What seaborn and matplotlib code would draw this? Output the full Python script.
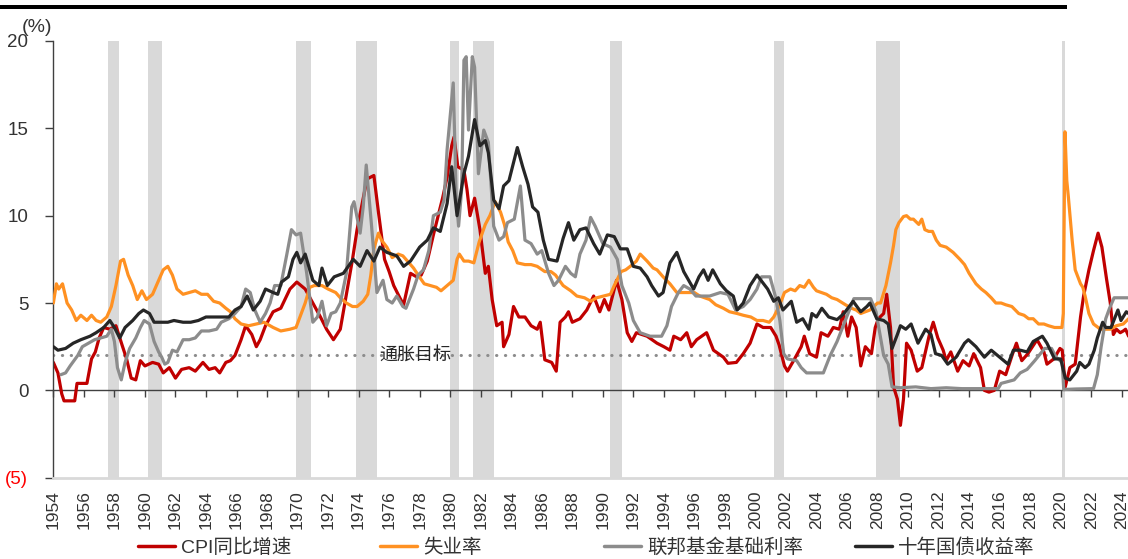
import matplotlib.pyplot as plt
import seaborn as sns
import pandas as pd
from matplotlib.lines import Line2D
from matplotlib.patches import Rectangle

# ---- data ----
cpi_year = [1954.0, 1954.3, 1954.55, 1954.7, 1955.0, 1955.4, 1955.55, 1956.2, 1956.5, 1956.75, 1957.0, 1957.3, 1957.7, 1958.1, 1958.5, 1958.8, 1959.1, 1959.4, 1959.7, 1960.0, 1960.5, 1960.9, 1961.2, 1961.6, 1962.0, 1962.4, 1962.9, 1963.3, 1963.8, 1964.2, 1964.6, 1964.9, 1965.3, 1965.6, 1965.9, 1966.3, 1966.6, 1967.0, 1967.3, 1967.55, 1967.9, 1968.4, 1968.9, 1969.5, 1969.95, 1970.5, 1971.0, 1971.5, 1971.9, 1972.35, 1972.8, 1973.2, 1973.6, 1973.9, 1974.3, 1974.55, 1975.0, 1975.3, 1975.7, 1976.0, 1976.3, 1976.7, 1976.95, 1977.4, 1977.8, 1978.1, 1978.5, 1978.9, 1979.1, 1979.5, 1979.8, 1980.1, 1980.25, 1980.5, 1980.9, 1981.1, 1981.3, 1981.6, 1981.95, 1982.3, 1982.5, 1982.75, 1983.05, 1983.4, 1983.5, 1983.85, 1984.15, 1984.5, 1984.9, 1985.3, 1985.7, 1985.9, 1986.2, 1986.65, 1986.95, 1987.2, 1987.55, 1987.75, 1988.0, 1988.5, 1988.95, 1989.4, 1989.8, 1990.1, 1990.4, 1990.9, 1991.25, 1991.6, 1991.9, 1992.2, 1992.9, 1993.55, 1994.0, 1994.4, 1994.65, 1995.1, 1995.5, 1995.8, 1996.15, 1996.8, 1997.25, 1997.9, 1998.2, 1998.75, 1999.2, 1999.65, 2000.1, 2000.5, 2001.0, 2001.35, 2001.55, 2001.9, 2002.1, 2002.5, 2003.0, 2003.2, 2003.55, 2004.0, 2004.3, 2004.75, 2005.1, 2005.5, 2005.75, 2006.05, 2006.3, 2006.6, 2006.9, 2007.2, 2007.6, 2007.85, 2008.05, 2008.4, 2008.6, 2008.85, 2009.05, 2009.3, 2009.5, 2009.7, 2009.9, 2010.2, 2010.6, 2010.9, 2011.4, 2011.65, 2011.95, 2012.3, 2012.5, 2012.8, 2013.25, 2013.6, 2014.0, 2014.3, 2014.75, 2015.0, 2015.3, 2015.65, 2016.0, 2016.4, 2016.85, 2017.1, 2017.45, 2017.85, 2018.45, 2018.9, 2019.1, 2019.55, 2019.95, 2020.1, 2020.3, 2020.6, 2020.95, 2021.3, 2021.5, 2021.85, 2022.15, 2022.45, 2022.7, 2023.0, 2023.25, 2023.45, 2023.65, 2023.9, 2024.1, 2024.25, 2024.45]
cpi_val = [1.6, 1.0, -0.2, -0.6, -0.6, -0.6, 0.4, 0.4, 1.8, 2.2, 3.0, 3.6, 3.5, 3.7, 2.6, 1.8, 0.7, 0.6, 1.7, 1.4, 1.6, 1.5, 1.0, 1.3, 0.7, 1.2, 1.3, 1.1, 1.6, 1.2, 1.3, 1.0, 1.6, 1.7, 2.0, 2.9, 3.7, 3.2, 2.5, 2.9, 3.7, 4.5, 4.7, 5.8, 6.2, 5.8, 5.0, 4.2, 3.5, 2.9, 3.5, 5.5, 7.5, 9.2, 11.0, 12.1, 12.3, 10.2, 7.5, 6.8, 6.0, 5.3, 4.9, 6.7, 6.5, 6.6, 7.4, 8.9, 9.6, 11.0, 12.2, 14.0, 14.5, 12.8, 12.6, 11.5, 10.0, 11.0, 9.2, 6.7, 7.1, 5.2, 3.7, 3.9, 2.5, 3.2, 4.8, 4.2, 4.2, 3.7, 3.5, 3.9, 1.75, 1.6, 1.1, 3.9, 4.2, 4.5, 3.9, 4.1, 4.6, 5.4, 4.5, 5.2, 4.6, 6.3, 5.2, 3.3, 2.8, 3.3, 3.1, 2.7, 2.5, 2.3, 3.1, 2.9, 3.3, 2.5, 2.9, 3.3, 2.3, 1.9, 1.55, 1.6, 2.1, 2.7, 3.8, 3.6, 3.6, 3.1, 2.6, 1.4, 1.1, 1.7, 2.5, 3.1, 2.1, 1.9, 3.3, 3.1, 3.6, 3.5, 4.5, 3.1, 4.2, 3.6, 1.4, 2.5, 2.1, 3.6, 4.1, 4.4, 5.5, 3.6, 0.2, -0.5, -2.0, -0.5, 2.7, 2.3, 1.1, 1.3, 3.2, 3.9, 3.0, 2.3, 1.7, 2.2, 1.1, 1.7, 1.4, 2.1, 1.3, 0.0, -0.1, 0.0, 1.1, 0.9, 2.1, 2.7, 1.7, 2.1, 2.9, 2.2, 1.5, 1.8, 2.4, 2.3, 0.2, 1.3, 1.5, 4.2, 5.4, 6.9, 8.0, 9.0, 8.2, 6.4, 5.0, 3.2, 3.5, 3.3, 3.4, 3.5, 3.1]

unemp_year = [1954.0, 1954.2, 1954.35, 1954.6, 1954.9, 1955.2, 1955.5, 1955.8, 1956.2, 1956.5, 1956.8, 1957.1, 1957.5, 1957.8, 1958.1, 1958.4, 1958.6, 1958.9, 1959.2, 1959.5, 1959.8, 1960.1, 1960.5, 1960.9, 1961.2, 1961.5, 1961.8, 1962.1, 1962.5, 1962.9, 1963.3, 1963.7, 1964.1, 1964.5, 1964.9, 1965.3, 1965.6, 1965.9, 1966.3, 1966.8, 1967.3, 1967.8, 1968.4, 1968.9, 1969.5, 1969.9, 1970.2, 1970.5, 1970.8, 1971.1, 1971.6, 1972.0, 1972.5, 1972.8, 1973.2, 1973.6, 1973.9, 1974.3, 1974.6, 1974.8, 1975.0, 1975.3, 1975.5, 1975.85, 1976.2, 1976.6, 1976.9, 1977.2, 1977.6, 1977.9, 1978.3, 1978.7, 1979.1, 1979.4, 1979.8, 1980.2, 1980.45, 1980.6, 1980.9, 1981.2, 1981.55, 1981.9, 1982.3, 1982.6, 1982.95, 1983.3, 1983.55, 1983.8, 1984.1, 1984.4, 1984.9, 1985.3, 1985.7, 1986.2, 1986.6, 1986.9, 1987.4, 1987.9, 1988.3, 1988.8, 1989.2, 1989.6, 1990.05, 1990.5, 1990.75, 1991.2, 1991.5, 1991.8, 1992.2, 1992.45, 1992.9, 1993.3, 1993.55, 1993.95, 1994.4, 1994.85, 1995.3, 1995.7, 1996.0, 1996.35, 1997.0, 1997.4, 1997.9, 1998.3, 1998.8, 1999.2, 1999.7, 2000.1, 2000.5, 2000.9, 2001.2, 2001.6, 2001.9, 2002.3, 2002.6, 2002.9, 2003.2, 2003.5, 2003.8, 2004.0, 2004.65, 2005.0, 2005.35, 2005.9, 2006.3, 2006.6, 2006.9, 2007.2, 2007.5, 2007.75, 2008.0, 2008.2, 2008.55, 2008.85, 2009.05, 2009.2, 2009.4, 2009.7, 2009.9, 2010.15, 2010.35, 2010.7, 2010.9, 2011.1, 2011.35, 2011.6, 2011.85, 2012.1, 2012.5, 2012.95, 2013.4, 2013.7, 2014.0, 2014.45, 2014.8, 2015.1, 2015.45, 2015.75, 2016.1, 2016.4, 2016.8, 2017.25, 2017.6, 2017.9, 2018.2, 2018.55, 2018.9, 2019.2, 2019.6, 2020.08, 2020.17, 2020.28, 2020.4, 2020.5, 2020.75, 2020.95, 2021.3, 2021.45, 2021.6, 2021.85, 2022.15, 2022.6, 2023.0, 2023.25, 2023.65, 2024.1, 2024.45]
unemp_val = [5.0, 6.1, 5.8, 6.1, 5.0, 4.6, 4.0, 4.3, 4.0, 4.3, 4.0, 3.9, 4.2, 4.8, 6.0, 7.4, 7.5, 6.6, 6.0, 5.2, 5.7, 5.2, 5.5, 6.3, 6.9, 7.1, 6.6, 5.8, 5.5, 5.6, 5.7, 5.5, 5.5, 5.1, 5.0, 4.7, 4.5, 4.1, 3.8, 3.7, 3.8, 3.9, 3.6, 3.4, 3.5, 3.6, 4.3, 5.0, 5.9, 6.0, 6.0, 5.8, 5.6, 5.3, 5.0, 4.8, 4.8, 5.1, 5.5, 6.6, 8.1, 9.0, 8.6, 8.2, 7.6, 7.8, 7.7, 7.4, 7.0, 6.6, 6.1, 6.0, 5.9, 5.7, 6.0, 6.3, 7.5, 7.8, 7.4, 7.4, 7.3, 8.5, 9.5, 10.0, 10.8, 10.2, 9.5, 8.5, 8.0, 7.3, 7.2, 7.2, 7.1, 6.8, 6.8, 6.6, 6.0, 5.7, 5.4, 5.3, 5.1, 5.3, 5.4, 5.5, 6.0, 6.8, 6.9, 7.1, 7.4, 7.8, 7.4, 7.0, 6.9, 6.5, 6.1, 5.6, 5.6, 5.6, 5.6, 5.4, 5.2, 4.9, 4.7, 4.5, 4.4, 4.3, 4.2, 4.0, 4.0, 3.9, 4.2, 4.9, 5.6, 5.8, 5.7, 6.0, 5.9, 6.3, 5.9, 5.7, 5.5, 5.3, 5.2, 4.9, 4.7, 4.6, 4.4, 4.5, 4.6, 4.8, 5.0, 5.0, 6.0, 7.3, 8.3, 9.2, 9.6, 9.95, 10.0, 9.8, 9.8, 9.5, 9.8, 9.2, 9.1, 9.1, 8.6, 8.3, 8.2, 7.9, 7.5, 7.2, 6.7, 6.1, 5.8, 5.6, 5.3, 5.0, 5.0, 4.9, 4.8, 4.4, 4.3, 4.1, 4.1, 3.8, 3.8, 3.7, 3.6, 3.6, 4.4, 14.8, 12.0, 11.1, 8.6, 6.9, 6.1, 5.9, 5.4, 4.4, 3.8, 3.5, 3.5, 3.5, 3.7, 3.8, 4.1]

fed_year = [1954.5, 1954.8, 1955.1, 1955.6, 1955.9, 1956.3, 1956.7, 1957.1, 1957.5, 1957.8, 1958.0, 1958.2, 1958.45, 1958.7, 1959.0, 1959.4, 1959.7, 1959.95, 1960.3, 1960.6, 1960.9, 1961.1, 1961.3, 1961.5, 1961.8, 1962.1, 1962.5, 1962.9, 1963.3, 1963.7, 1964.2, 1964.7, 1965.0, 1965.5, 1965.9, 1966.3, 1966.6, 1966.9, 1967.2, 1967.55, 1967.9, 1968.2, 1968.5, 1968.9, 1969.3, 1969.6, 1969.9, 1970.2, 1970.6, 1971.0, 1971.3, 1971.6, 1971.9, 1972.2, 1972.5, 1972.8, 1973.2, 1973.55, 1973.7, 1974.1, 1974.3, 1974.5, 1974.85, 1975.2, 1975.6, 1975.85, 1976.2, 1976.5, 1976.9, 1977.1, 1977.6, 1977.9, 1978.25, 1978.6, 1978.9, 1979.35, 1979.6, 1979.8, 1980.2, 1980.4, 1980.55, 1980.75, 1980.9, 1981.05, 1981.2, 1981.45, 1981.6, 1981.85, 1982.2, 1982.5, 1982.85, 1983.2, 1983.5, 1983.75, 1984.2, 1984.6, 1984.9, 1985.3, 1985.7, 1986.0, 1986.45, 1986.8, 1987.1, 1987.55, 1987.9, 1988.2, 1988.5, 1988.9, 1989.2, 1989.5, 1990.0, 1990.5, 1990.95, 1991.25, 1991.7, 1992.0, 1992.45, 1993.1, 1993.85, 1994.2, 1994.5, 1994.95, 1995.3, 1995.7, 1996.1, 1997.0, 1997.7, 1998.2, 1998.7, 1999.2, 1999.65, 2000.1, 2000.4, 2000.95, 2001.3, 2001.6, 2001.85, 2002.1, 2002.7, 2003.0, 2003.35, 2004.45, 2004.9, 2005.35, 2005.8, 2006.2, 2006.45, 2007.55, 2007.9, 2008.2, 2008.4, 2008.7, 2008.95, 2009.5, 2010.5, 2011.5, 2012.5, 2013.5, 2014.5, 2015.9, 2016.1, 2016.95, 2017.35, 2017.8, 2018.3, 2018.95, 2019.4, 2019.7, 2020.1, 2020.2, 2021.0, 2022.15, 2022.4, 2022.65, 2022.95, 2023.2, 2023.5, 2024.45]
fed_val = [0.9, 1.0, 1.4, 2.0, 2.5, 2.7, 2.9, 3.0, 3.1, 3.5, 2.8, 1.3, 0.6, 1.6, 2.4, 3.0, 3.6, 4.0, 3.8, 2.8, 2.2, 1.9, 1.5, 1.6, 2.3, 2.2, 2.9, 2.9, 3.0, 3.4, 3.4, 3.5, 3.9, 4.1, 4.4, 4.8, 5.8, 5.6, 4.6, 3.9, 4.4, 5.0, 6.0, 6.0, 7.8, 9.2, 8.9, 9.0, 6.7, 3.9, 4.2, 5.1, 3.7, 4.4, 4.5, 5.0, 6.7, 10.5, 10.8, 9.0, 10.5, 12.9, 9.4, 5.6, 6.3, 5.2, 5.0, 5.4, 4.8, 4.7, 5.8, 6.6, 6.9, 8.0, 10.0, 10.2, 10.9, 13.8, 17.6, 11.0, 9.4, 11.5, 18.9, 19.1, 14.9, 19.1, 18.5, 12.4, 14.9, 14.2, 9.4, 8.6, 8.8, 9.6, 9.8, 11.7, 8.6, 8.4, 7.8, 8.0, 6.7, 6.0, 6.3, 7.1, 6.7, 6.5, 7.8, 8.6, 9.9, 9.4, 8.4, 8.2, 7.5, 6.0, 5.0, 4.0, 3.3, 3.1, 3.1, 3.7, 4.8, 5.6, 6.0, 5.8, 5.4, 5.4, 5.6, 5.5, 4.6, 4.8, 5.2, 5.8, 6.5, 6.5, 5.4, 4.0, 2.1, 1.8, 1.7, 1.3, 1.0, 1.0, 2.0, 2.8, 3.8, 4.7, 5.25, 5.25, 4.5, 3.0, 2.0, 1.5, 0.2, 0.15, 0.2, 0.1, 0.15, 0.1, 0.1, 0.1, 0.4, 0.6, 1.0, 1.2, 1.7, 2.4, 2.4, 1.9, 1.6, 0.05, 0.08, 0.1, 0.9, 2.5, 4.1, 4.7, 5.3, 5.3]

ty_year = [1954.0, 1954.3, 1954.8, 1955.3, 1955.8, 1956.4, 1956.8, 1957.3, 1957.7, 1958.0, 1958.35, 1958.7, 1959.2, 1959.6, 1959.9, 1960.3, 1960.6, 1961.0, 1961.5, 1961.9, 1962.5, 1963.0, 1963.5, 1964.0, 1964.5, 1965.0, 1965.5, 1965.9, 1966.3, 1966.7, 1967.1, 1967.55, 1967.9, 1968.4, 1968.7, 1968.95, 1969.4, 1969.7, 1969.95, 1970.2, 1970.5, 1971.0, 1971.4, 1971.6, 1971.95, 1972.4, 1973.0, 1973.65, 1974.1, 1974.55, 1975.0, 1975.4, 1975.85, 1976.5, 1976.95, 1977.4, 1978.0, 1978.5, 1978.9, 1979.35, 1979.8, 1980.1, 1980.45, 1980.9, 1981.2, 1981.6, 1981.95, 1982.3, 1982.5, 1982.85, 1983.2, 1983.5, 1983.85, 1984.4, 1984.75, 1985.1, 1985.4, 1985.75, 1986.1, 1986.45, 1987.0, 1987.4, 1987.75, 1988.1, 1988.5, 1988.9, 1989.4, 1989.8, 1990.3, 1990.75, 1991.15, 1991.6, 1992.0, 1992.45, 1992.9, 1993.2, 1993.65, 1993.95, 1994.4, 1994.85, 1995.3, 1995.95, 1996.3, 1996.6, 1996.9, 1997.2, 1997.7, 1998.1, 1998.55, 1998.8, 1999.2, 1999.65, 2000.1, 2000.8, 2001.2, 2001.5, 2001.8, 2002.35, 2002.7, 2003.1, 2003.5, 2003.7, 2004.0, 2004.35, 2004.8, 2005.35, 2005.8, 2006.4, 2006.9, 2007.3, 2007.5, 2007.95, 2008.4, 2008.7, 2008.95, 2009.3, 2009.5, 2009.85, 2010.2, 2010.65, 2011.15, 2011.5, 2011.8, 2012.2, 2012.6, 2013.15, 2013.7, 2013.95, 2014.45, 2015.0, 2015.45, 2016.0, 2016.55, 2016.9, 2017.35, 2017.8, 2018.2, 2018.8, 2019.1, 2019.6, 2020.0, 2020.3, 2020.6, 2021.05, 2021.25, 2021.6, 2021.85, 2022.2, 2022.4, 2022.75, 2022.95, 2023.3, 2023.75, 2023.95, 2024.3, 2024.45]
ty_val = [2.5, 2.3, 2.4, 2.7, 2.9, 3.1, 3.3, 3.6, 4.0, 3.6, 3.0, 3.6, 4.0, 4.4, 4.6, 4.4, 3.9, 3.9, 3.9, 4.0, 3.9, 3.9, 4.0, 4.2, 4.2, 4.2, 4.2, 4.6, 4.8, 5.4, 4.6, 5.1, 5.8, 5.6, 5.5, 6.2, 6.5, 7.5, 7.9, 7.3, 7.8, 6.3, 6.0, 7.0, 6.0, 6.5, 6.7, 7.5, 7.1, 8.0, 7.4, 8.2, 7.9, 7.7, 7.1, 7.4, 8.2, 8.6, 9.3, 9.1, 10.7, 12.8, 10.0, 12.4, 13.4, 15.5, 14.0, 14.3, 13.6, 10.9, 10.4, 11.7, 12.0, 13.9, 12.8, 11.8, 10.5, 10.2, 8.6, 7.5, 7.4, 8.7, 9.6, 8.6, 9.2, 9.3, 8.4, 7.8, 8.9, 8.8, 8.1, 8.1, 7.1, 7.0, 6.5, 6.0, 5.4, 5.6, 7.3, 7.9, 6.8, 5.8, 6.5, 6.9, 6.3, 6.9, 6.1, 5.7, 5.4, 4.6, 5.0, 6.0, 6.6, 5.8, 5.1, 5.3, 4.6, 5.1, 3.9, 4.1, 3.5, 4.4, 4.2, 4.7, 4.2, 4.05, 4.4, 5.1, 4.5, 4.8, 5.0, 4.1, 4.0, 3.8, 2.4, 3.2, 3.7, 3.5, 3.8, 2.7, 3.5, 3.2, 2.1, 2.0, 1.5, 1.9, 2.7, 2.9, 2.5, 1.9, 2.3, 1.9, 1.5, 2.3, 2.3, 2.2, 2.8, 3.1, 2.7, 1.8, 1.8, 0.7, 0.6, 1.1, 1.6, 1.3, 1.5, 2.3, 3.0, 3.9, 3.6, 3.6, 4.6, 4.0, 4.5, 4.4]

recession_start = [1957.57, 1960.2, 1969.9, 1973.84, 1980.0, 1981.52, 1990.5, 2001.2, 2007.92, 2020.1]
recession_end = [1958.3, 1961.14, 1970.87, 1975.2, 1980.57, 1982.88, 1991.25, 2001.9, 2009.5, 2020.3]

inflation_target = 2
years = list(range(1954, 2025, 2))

series_names = ['CPI同比增速', '失业率', '联邦基金基础利率', '十年国债收益率']
series_colors = ['#c00000', '#ff9122', '#8c8c8c', '#262626']

# ---- style ----
sns.set_style("white")
plt.rcParams['font.family'] = ['Liberation Sans', 'Noto Sans CJK SC', 'DejaVu Sans']
plt.rcParams['axes.unicode_minus'] = False

fig = plt.figure(figsize=(11.28, 5.59), dpi=100)
ax = fig.add_axes([0.0473, 0.1454, 0.9527, 0.7813])

for s, e in zip(recession_start, recession_end):
    ax.axvspan(s, e, color='#d9d9d9', lw=0, zorder=0)

ax.axhline(inflation_target, color='#8c8c8c', lw=2.2, ls=(0, (0.1, 2.8)),
           dash_capstyle='round', zorder=1)
ax.text(1977.7, inflation_target, '通胀目标', fontsize=13, ha='center', va='center',
        color='#262626', zorder=6)

frames = [
    pd.DataFrame({'year': cpi_year, 'value': cpi_val}),
    pd.DataFrame({'year': unemp_year, 'value': unemp_val}),
    pd.DataFrame({'year': fed_year, 'value': fed_val}),
    pd.DataFrame({'year': ty_year, 'value': ty_val}),
]
for i, (df, c) in enumerate(zip(frames, series_colors)):
    sns.lineplot(data=df, x='year', y='value', ax=ax, color=c, lw=2.3,
                 legend=False, zorder=2 + i)

ax.set_xlim(1954, 2024.41)
ax.set_ylim(-5, 20)
ax.set_xlabel('')
ax.set_ylabel('')

# y axis
ax.set_yticks([-5, 0, 5, 10, 15, 20])
ax.set_yticklabels(['(5)', '0', '5', '10', '15', '20'])
ax.tick_params(axis='y', direction='out', length=6, width=1, color='#404040',
               labelsize=13.5, labelcolor='#333333', pad=12, left=True)
ax.get_yticklabels()[0].set_color('#ff0000')

# x labels at the bottom, axis line at y=0
ax.set_xticks(years)
ax.set_xticklabels([str(y) for y in years], rotation=90)
ax.tick_params(axis='x', length=0, labelsize=12.5, labelcolor='#333333', pad=9)

sec = ax.secondary_xaxis(0.2)
sec.set_xticks(years)
sec.set_xticklabels([])
sec.tick_params(axis='x', direction='out', length=5, width=1, color='#404040')
sec.spines['bottom'].set_color('#404040')
sec.spines['bottom'].set_linewidth(1)

for side in ['top', 'right']:
    ax.spines[side].set_visible(False)
ax.spines['left'].set_color('#404040')
ax.spines['left'].set_linewidth(1)
ax.spines['bottom'].set_color('#d9d9d9')
ax.spines['bottom'].set_linewidth(2)

fig.text(22 / 1128, 1 - 28 / 559, '(%)', fontsize=14, color='#333333', va='center')

# black bar at the top
fig.add_artist(Rectangle((0, 1 - 9 / 559), 1067 / 1128, 4 / 559,
                         transform=fig.transFigure, color='black', lw=0))

# legend items placed one by one
legend_x = [138, 380, 604, 855]
for name, c, lx in zip(series_names, series_colors, legend_x):
    h = Line2D([], [], color=c, lw=2.5)
    fig.legend([h], [name], loc='center left', bbox_to_anchor=(lx / 1128, 11 / 559),
               frameon=False, fontsize=14, handlelength=1.9, handletextpad=0.3,
               borderpad=0, borderaxespad=0, labelcolor='#333333')

fig.savefig('out.png', dpi=100, facecolor='white')
